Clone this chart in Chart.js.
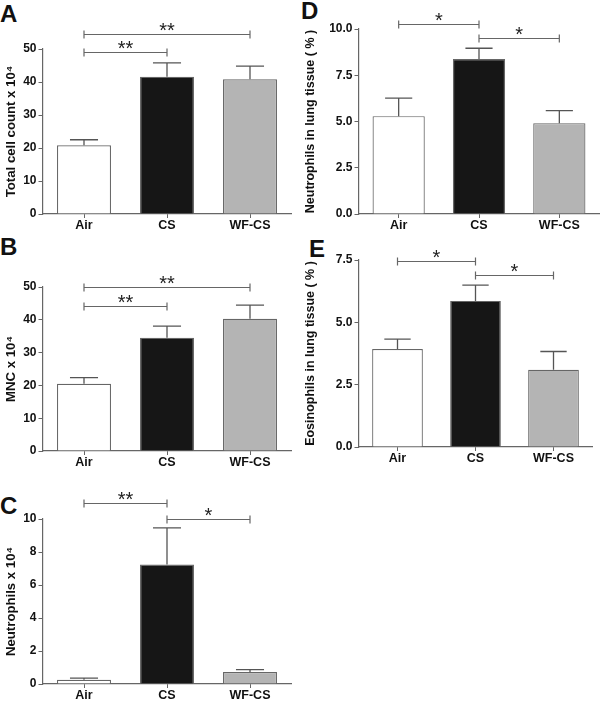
<!DOCTYPE html>
<html lang="en">
<head>
  <meta charset="UTF-8">
  <title>Cell counts and lung tissue inflammation</title>
  <script src="https://cdn.jsdelivr.net/npm/chart.js"></script>
  <style>
    body { margin: 0; background: #fff; }
    #page { position: relative; width: 600px; height: 702px; overflow: hidden; }
    #page canvas { position: absolute; }
    .letter { position: absolute; font: bold 24px "Liberation Sans", Arial, sans-serif; line-height: 1; color: #111; }
  </style>
</head>
<body>
  <div id="page">
    <div class="letter" style="left:0;top:2px">A</div>
    <div class="letter" style="left:0;top:235px">B</div>
    <div class="letter" style="left:0;top:494px">C</div>
    <div class="letter" style="left:301px;top:-1px">D</div>
    <div class="letter" style="left:309px;top:237px">E</div>
    <canvas id="chartA"></canvas>
    <canvas id="chartB"></canvas>
    <canvas id="chartC"></canvas>
    <canvas id="chartD"></canvas>
    <canvas id="chartE"></canvas>
  </div>

  <script>
    // groups
    var categories = ['Air', 'CS', 'WF-CS'];

    // means and SEM (upper error only)
    var totalCells = [20.8, 41.6, 40.8];
    var totalCellsErr = [1.7, 4.2, 4.0];
    var mnc = [20.5, 34.5, 40.3];
    var mncErr = [1.9, 3.6, 4.2];
    var neutrophils = [0.26, 7.24, 0.73];
    var neutrophilsErr = [0.1, 2.22, 0.14];
    var lungNeutrophils = [5.29, 8.38, 4.91];
    var lungNeutrophilsErr = [0.97, 0.58, 0.68];
    var lungEosinophils = [3.93, 5.86, 3.10];
    var lungEosinophilsErr = [0.4, 0.63, 0.73];

    // y tick labels
    var ticksA = [0, 10, 20, 30, 40, 50];
    var ticksB = [0, 10, 20, 30, 40, 50];
    var ticksC = [0, 2, 4, 6, 8, 10];
    var ticksD = [0, 2.5, 5, 7.5, 10];
    var ticksE = [0, 2.5, 5, 7.5];

    // significance brackets: [from, to, height in data units, label]
    var sigA = [[0, 1, 49.0, '**'], [0, 2, 54.6, '**']];
    var sigB = [[0, 1, 44.3, '**'], [0, 2, 50.0, '**']];
    var sigC = [[0, 1, 10.95, '**'], [1, 2, 9.98, '*']];
    var sigD = [[0, 1, 10.27, '*'], [1, 2, 9.53, '*']];
    var sigE = [[0, 1, 7.46, '*'], [1, 2, 6.9, '*']];

    var FONT = '"Liberation Sans", Arial, sans-serif';
    var LINE = '#666';

    // error bars above each bar
    var errorBars = {
      id: 'errorBars',
      afterDatasetsDraw: function(chart, args, opts) {
        var ctx = chart.ctx, y = chart.scales.y;
        var meta = chart.getDatasetMeta(0);
        var vals = chart.data.datasets[0].data;
        ctx.save();
        ctx.strokeStyle = '#555';
        ctx.lineWidth = 1.3;
        meta.data.forEach(function(bar, i) {
          var top = y.getPixelForValue(vals[i]);
          var end = y.getPixelForValue(vals[i] + opts.errs[i]);
          var half = bar.width * 0.26;
          ctx.beginPath();
          ctx.moveTo(bar.x, top);
          ctx.lineTo(bar.x, end);
          ctx.moveTo(bar.x - half, end);
          ctx.lineTo(bar.x + half, end);
          ctx.stroke();
        });
        ctx.restore();
      }
    };

    // significance brackets with stars
    var brackets = {
      id: 'brackets',
      afterDraw: function(chart, args, opts) {
        var ctx = chart.ctx, x = chart.scales.x, y = chart.scales.y;
        ctx.save();
        opts.items.forEach(function(s) {
          var x1 = x.getPixelForValue(s[0]);
          var x2 = x.getPixelForValue(s[1]);
          var yy = Math.round(y.getPixelForValue(s[2])) + 0.5;
          ctx.strokeStyle = LINE;
          ctx.lineWidth = 1.2;
          ctx.beginPath();
          ctx.moveTo(x1, yy); ctx.lineTo(x2, yy);
          ctx.moveTo(x1, yy - 4); ctx.lineTo(x1, yy + 4);
          ctx.moveTo(x2, yy - 4); ctx.lineTo(x2, yy + 4);
          ctx.stroke();
          ctx.fillStyle = '#222';
          ctx.font = '20px ' + FONT;
          ctx.textAlign = 'center';
          ctx.textBaseline = 'alphabetic';
          ctx.fillText(s[3], (x1 + x2) / 2, yy + 2);
        });
        ctx.restore();
      }
    };

    function makePanel(id, box, area, values, errs, yTicks, title, titleSize, sig) {
      var canvas = document.getElementById(id);
      canvas.width = box.w;
      canvas.height = box.h;
      canvas.style.left = box.x + 'px';
      canvas.style.top = box.y + 'px';
      var decimals = yTicks.some(function(v) { return v % 1 !== 0; });

      return new Chart(canvas.getContext('2d'), {
        type: 'bar',
        data: {
          labels: categories,
          datasets: [{
            data: values,
            backgroundColor: ['#ffffff', '#161616', '#b4b4b4'],
            borderColor: '#666',
            borderWidth: 1.2,
            barPercentage: 0.65,
            categoryPercentage: 1
          }]
        },
        options: {
          responsive: false,
          animation: false,
          layout: { padding: { top: area.top, right: box.w - area.right, bottom: 0, left: 0 } },
          plugins: {
            legend: { display: false },
            tooltip: { enabled: false },
            errorBars: { errs: errs },
            brackets: { items: sig }
          },
          scales: {
            x: {
              offset: true,
              grid: { drawOnChartArea: false, drawTicks: true, tickLength: 4, offset: false, color: LINE },
              border: { color: LINE, width: 1.2 },
              ticks: { color: '#111', padding: 0, font: { family: FONT, weight: 'bold', size: 12.5 } },
              afterFit: function(s) { s.height = box.h - area.bottom; }
            },
            y: {
              min: yTicks[0],
              max: yTicks[yTicks.length - 1],
              afterBuildTicks: function(s) { s.ticks = yTicks.map(function(v) { return { value: v }; }); },
              grid: { drawOnChartArea: false, drawTicks: true, tickLength: 4, color: LINE },
              border: { color: LINE, width: 1.2 },
              ticks: {
                color: '#111',
                padding: 2,
                font: { family: FONT, weight: 'bold', size: 12 },
                callback: function(v) { return decimals ? v.toFixed(1) : v; }
              },
              title: {
                display: true,
                text: title,
                color: '#111',
                padding: { top: 3, bottom: 0 },
                font: { family: FONT, weight: 'bold', size: titleSize }
              },
              afterFit: function(s) { s.width = area.left; }
            }
          }
        },
        plugins: [errorBars, brackets]
      });
    }

    makePanel('chartA', { x: 0, y: 0, w: 300, h: 236 }, { left: 42.5, right: 291.5, top: 49, bottom: 214 },
      totalCells, totalCellsErr, ticksA, 'Total cell count x 10\u2074', 13.2, sigA);
    makePanel('chartB', { x: 0, y: 236, w: 300, h: 234 }, { left: 42.5, right: 291.5, top: 51, bottom: 215 },
      mnc, mncErr, ticksB, 'MNC x 10\u2074', 13.2, sigB);
    makePanel('chartC', { x: 0, y: 470, w: 300, h: 232 }, { left: 42.5, right: 291.5, top: 49, bottom: 214 },
      neutrophils, neutrophilsErr, ticksC, 'Neutrophils x 10\u2074', 13.2, sigC);
    makePanel('chartD', { x: 300, y: 0, w: 300, h: 236 }, { left: 58.5, right: 299.5, top: 29, bottom: 214 },
      lungNeutrophils, lungNeutrophilsErr, ticksD, 'Neutrophils in lung tissue ( % )', 12.5, sigD);
    makePanel('chartE', { x: 300, y: 236, w: 300, h: 234 }, { left: 58.5, right: 292.5, top: 24, bottom: 211 },
      lungEosinophils, lungEosinophilsErr, ticksE, 'Eosinophils in lung tissue ( % )', 12.5, sigE);
  </script>
</body>
</html>
